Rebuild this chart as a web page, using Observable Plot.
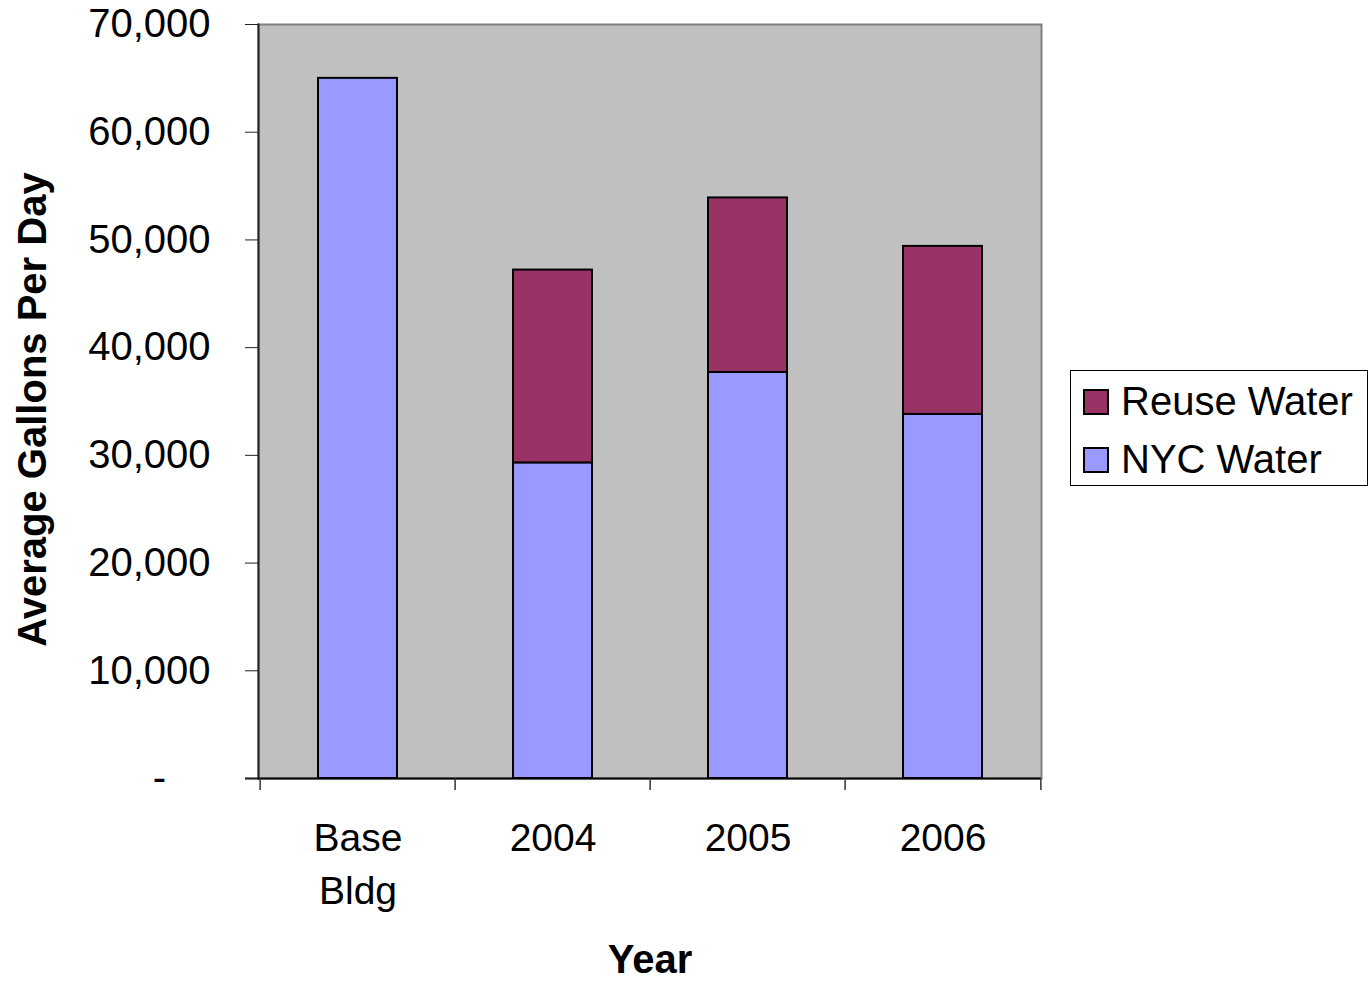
<!DOCTYPE html>
<html>
<head>
<meta charset="utf-8">
<script src="https://cdn.jsdelivr.net/npm/d3@7"></script>
<script src="https://cdn.jsdelivr.net/npm/@observablehq/plot@0.6"></script>
<style>
  body { margin: 0; background: #fff; font-family: "Liberation Sans", Arial, sans-serif; }
  #wrap { position: relative; width: 1368px; height: 982px; }
  #legend {
    position: absolute; left: 1070px; top: 370px; width: 298px; height: 116px;
    border: 1px solid #000; background: #fff; box-sizing: border-box;
    font-size: 40px; color: #000;
  }
  .item { position: absolute; left: 12px; display: flex; align-items: center; }
  .sw { width: 22px; height: 22px; border: 2px solid #000; margin-right: 12px; }
</style>
</head>
<body>
<div id="wrap"><div id="legend"></div></div>
<script>
// Average daily water use per period, split by source
const categories = ["Base\nBldg", "2004", "2005", "2006"];
const nycWater = [65000, 29300, 37700, 33800];
const reuseWater = [null, 17900, 16200, 15600];
const seriesNames = ["Reuse Water", "NYC Water"];
const seriesColors = ["#993366", "#9999ff"];
const yTicks = [0, 10000, 20000, 30000, 40000, 50000, 60000, 70000];

const rows = [];
categories.forEach((c, i) => {
  rows.push({category: c, series: "NYC Water", value: nycWater[i]});
  if (reuseWater[i] != null) rows.push({category: c, series: "Reuse Water", value: reuseWater[i]});
});

const W = 1368, H = 982, mL = 258, mR = 327, mT = 24, mB = 204;
const step = (W - mL - mR) / categories.length;
const fontFamily = "'Liberation Sans', Arial, sans-serif";

const chart = Plot.plot({
  width: W, height: H,
  marginLeft: mL, marginRight: mR, marginTop: mT, marginBottom: mB,
  style: {fontFamily, color: "#000", background: "transparent"},
  x: {domain: categories, padding: 0},
  y: {domain: [0, 70000]},
  color: {domain: seriesNames, range: seriesColors},
  marks: [
    Plot.frame({fill: "#c0c0c0", stroke: "#808080", strokeWidth: 2}),
    Plot.barY(rows, Plot.stackY({
      x: "category", y: "value", fill: "series",
      stroke: "#000", strokeWidth: 2, insetLeft: 58, insetRight: 58
    })),
    // left and bottom axis lines
    Plot.frame({anchor: "left", stroke: "#222", strokeWidth: 2}),
    Plot.ruleY([0], {stroke: "#000", strokeWidth: 2, insetLeft: -13}),
    // category boundary ticks
    Plot.ruleX(categories, {x: d => d, dx: -step / 2, insetTop: H - mT - mB, insetBottom: -12, stroke: "#333", strokeWidth: 1.5}),
    Plot.ruleX(categories.slice(-1), {x: d => d, dx: step / 2, insetTop: H - mT - mB, insetBottom: -12, stroke: "#333", strokeWidth: 1.5}),
    Plot.axisY({
      ticks: yTicks, tickSize: 13, tickPadding: 35, fontSize: 40, label: null,
      tickFormat: d => d === 0 ? "-\u00a0\u00a0\u00a0\u00a0" : d3.format(",")(d),
      stroke: "#222"
    }),
    Plot.axisX({tickSize: 0, tickPadding: 35, fontSize: 39, lineHeight: 1.36, label: null}),
    Plot.text(["Average Gallons Per Day"], {
      text: d => d, frameAnchor: "left", dx: -225, dy: 8, rotate: -90, textAnchor: "middle",
      fontSize: 40, fontWeight: "bold", lineAnchor: "middle", fill: "#000"
    }),
    Plot.text(["Year"], {
      text: d => d, frameAnchor: "bottom", dy: 182, textAnchor: "middle",
      fontSize: 40, fontWeight: "bold", lineAnchor: "middle", fill: "#000"
    })
  ]
});
document.getElementById("wrap").prepend(chart);

// Legend on the right
const legend = document.getElementById("legend");
seriesNames.forEach((name, i) => {
  const item = document.createElement("div");
  item.className = "item";
  item.style.top = (i === 0 ? 8 : 66) + "px";
  const sw = document.createElement("div");
  sw.className = "sw";
  sw.style.background = seriesColors[i];
  const label = document.createElement("span");
  label.textContent = name;
  item.append(sw, label);
  legend.append(item);
});
</script>
</body>
</html>
